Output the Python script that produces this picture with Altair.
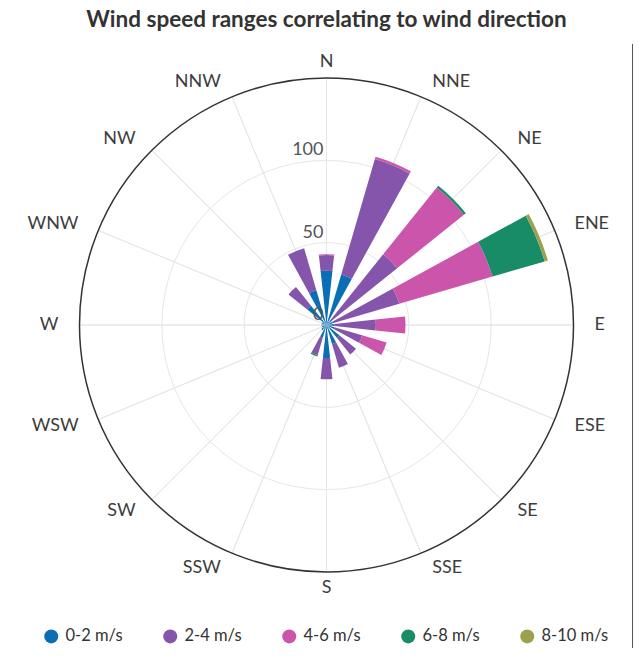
import math
import altair as alt
import pandas as pd

# ---------------- data ----------------
directions = ["N", "NNE", "NE", "ENE", "E", "ESE", "SE", "SSE",
              "S", "SSW", "SW", "WSW", "W", "WNW", "NW", "NNW"]
speed_bins = ["0-2 m/s", "2-4 m/s", "4-6 m/s", "6-8 m/s", "8-10 m/s"]
colors = ["#0a6eb4", "#8455aa", "#cb55ab", "#178c67", "#9ba14e"]

s_0_2  = [33, 32, 5, 4, 5, 5, 10, 12, 20, 8, 4, 3, 3, 3, 15, 22]
s_2_4  = [9.5, 73, 50, 42, 25, 17.5, 13, 15, 13, 11, 0, 0, 0, 0, 14.6, 26.6]
s_4_6  = [0.5, 1.5, 52, 59, 18, 15.5, 0, 0, 0, 0, 0, 0, 0, 0, 0, 0]
s_6_8  = [0, 0, 1.5, 33, 0, 0, 0, 0, 0, 1, 0, 0, 0, 0, 0, 0]
s_8_10 = [0, 0, 0, 2, 0, 0, 0, 0, 0, 0, 0, 0, 0, 0, 0, 0]

grid_values = [50, 100]
axis_max = [150]
axis_labels = [0, 50, 100]

title_text = "Wind speed ranges correlating to wind direction"

# ---------------- tables ----------------
series = [s_0_2, s_2_4, s_4_6, s_6_8, s_8_10]
rows = []
for i, d in enumerate(directions):
    base = 0.0
    for k, name in enumerate(speed_bins):
        v = series[k][i]
        rows.append(dict(direction=d, idx=i, speed=name, order=k,
                         value=v, r0=base, r1=base + v))
        base += v
bars_df = pd.DataFrame(rows)
dir_df = pd.DataFrame({"direction": directions, "idx": list(range(len(directions)))})
grid_df = pd.DataFrame({"r": grid_values})
outer_df = pd.DataFrame({"r": axis_max})
lab_df = pd.DataFrame({"v": axis_labels, "label": [str(v) for v in axis_labels]})

# ---------------- layout ----------------
W, H = 625, 604
PAD_TOP = 36
CX, CY = 318.5, 325 - 8 - PAD_TOP
R_OUT = 247

theta_scale = alt.Scale(domain=[0, 360], range=[0, 2 * math.pi])
r_scale = alt.Scale(type="linear", domain=[0, 150], range=[0, R_OUT], zero=True)
pos = dict(x=alt.value(CX), y=alt.value(CY))
FONT = "Lato"

grid = alt.Chart(grid_df).mark_arc(
    filled=False, color="#e6e6e6", strokeWidth=1, theta=0, theta2=2 * math.pi
).encode(radius=alt.Radius("r:Q", scale=r_scale, stack=None), **pos)

spokes = alt.Chart(dir_df).transform_calculate(
    a="datum.idx * 22.5"
).mark_arc(filled=False, color="#e6e6e6", strokeWidth=1).encode(
    theta=alt.Theta("a:Q", scale=theta_scale, stack=None),
    theta2="a:Q",
    radius=alt.Radius(datum=150, scale=r_scale),
    **pos,
)

outer = alt.Chart(outer_df).mark_arc(
    filled=False, color="#333333", strokeWidth=1.5, theta=0, theta2=2 * math.pi
).encode(radius=alt.Radius("r:Q", scale=r_scale, stack=None), **pos)

bars = alt.Chart(bars_df).transform_filter("datum.value > 0").transform_calculate(
    t0="datum.idx * 22.5 - 6.25", t1="datum.idx * 22.5 + 6.25"
).mark_arc().encode(
    theta=alt.Theta("t0:Q", scale=theta_scale, stack=None),
    theta2="t1:Q",
    radius=alt.Radius("r1:Q", scale=r_scale, stack=None),
    radius2="r0:Q",
    color=alt.Color(
        "speed:N",
        scale=alt.Scale(domain=speed_bins, range=colors),
        legend=alt.Legend(
            title=None, orient="none", direction="horizontal",
            legendX=35, legendY=628 - 8 - PAD_TOP,
            symbolType="circle", symbolSize=196, symbolStrokeWidth=0,
            labelFont=FONT, labelFontSize=16.5, labelColor="#333333",
            labelOffset=6, columnPadding=39,
        ),
    ),
    order=alt.Order("order:Q"),
    **pos,
)

axis_text = alt.Chart(lab_df).mark_text(
    theta=0, align="right", baseline="bottom", dx=-3, dy=-1,
    font=FONT, fontSize=18, color="#555555",
).encode(
    radius=alt.Radius("v:Q", scale=r_scale, stack=None),
    text="label:N",
    **pos,
)

def dir_labels(filt, align, dx):
    return alt.Chart(dir_df).transform_calculate(
        a="datum.idx * 22.5"
    ).transform_filter(filt).mark_text(
        align=align, baseline="middle", dx=dx,
        font=FONT, fontSize=18, color="#3d3d3d",
    ).encode(
        theta=alt.Theta("a:Q", scale=theta_scale, stack=None),
        radius=alt.value(R_OUT + 16),
        text="direction:N",
        **pos,
    )

lab_right = dir_labels("datum.idx > 0 && datum.idx < 8", "left", 5)
lab_left = dir_labels("datum.idx > 8", "right", -5)
lab_mid = dir_labels("datum.idx == 0 || datum.idx == 8", "center", 0)

border = alt.Chart(dir_df).mark_rule(color="#555555", strokeWidth=1).encode(
    x=alt.value(624.5), y=alt.value(0), y2=alt.value(H)
)

chart = alt.layer(
    grid, spokes, outer, bars, axis_text, lab_right, lab_left, lab_mid, border
).properties(
    width=W, height=H,
    padding={"left": 0, "top": PAD_TOP, "right": 0, "bottom": 0},
    autosize=alt.AutoSizeParams(type="none"),
    title=alt.TitleParams(
        title_text, font=FONT, fontSize=22.5, fontWeight="bold",
        color="#333333", anchor="middle", offset=12.5, dx=6,
    ),
).configure(background="white").configure_view(strokeWidth=0)

chart.save("out.html", embed_options={"renderer": "svg", "actions": False})
